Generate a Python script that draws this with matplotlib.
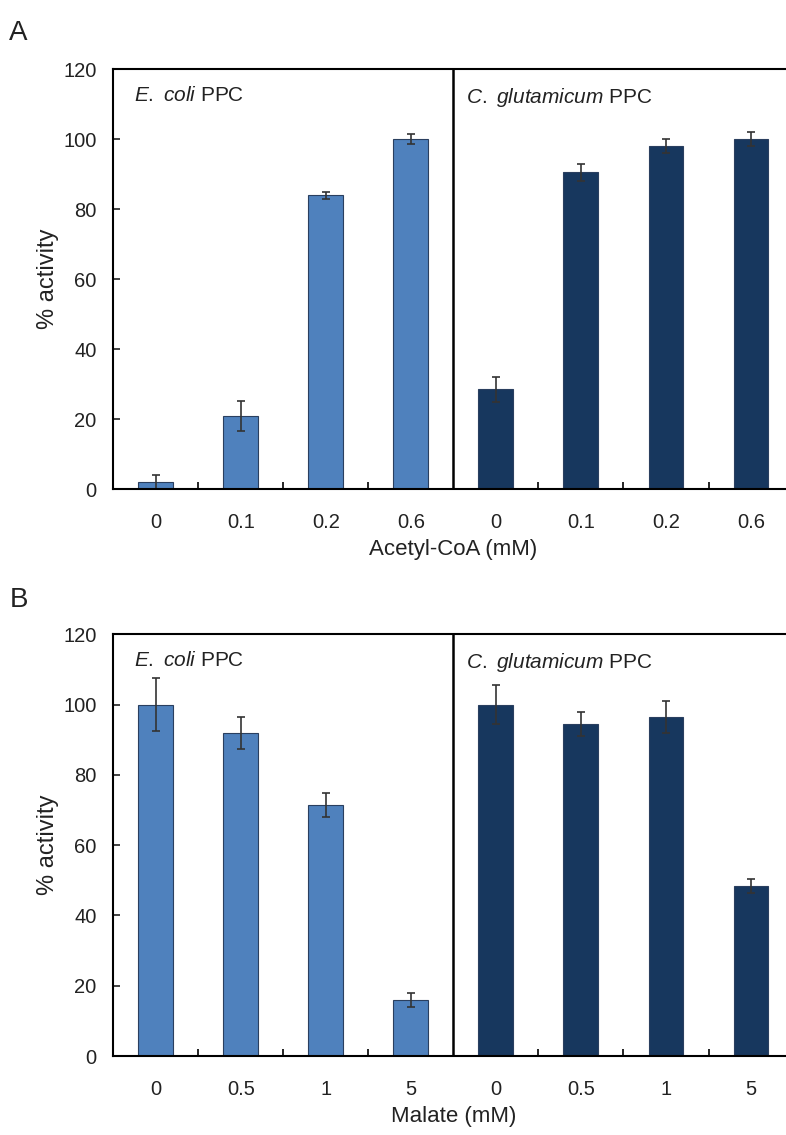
import matplotlib.pyplot as plt
import numpy as np

plt.rcParams['font.family'] = ['Liberation Sans', 'DejaVu Sans']
plt.rcParams['mathtext.fontset'] = 'custom'
plt.rcParams['mathtext.it'] = 'Liberation Sans:italic'
plt.rcParams['mathtext.rm'] = 'Liberation Sans'

# Panel A: acetyl-CoA activation
acoa_labels = ['0', '0.1', '0.2', '0.6']
acoa_ecoli = [2.0, 21.0, 84.0, 100.0]
acoa_ecoli_err = [2.0, 4.3, 1.0, 1.5]
acoa_cglu = [28.5, 90.5, 98.0, 100.0]
acoa_cglu_err = [3.5, 2.5, 2.0, 2.0]

# Panel B: malate inhibition
mal_labels = ['0', '0.5', '1', '5']
mal_ecoli = [100.0, 92.0, 71.5, 16.0]
mal_ecoli_err = [7.5, 4.5, 3.5, 2.0]
mal_cglu = [100.0, 94.5, 96.5, 48.5]
mal_cglu_err = [5.5, 3.5, 4.5, 2.0]

light = '#4F81BD'
dark = '#17375E'
edge = '#2a3f5f'
txt = '#222222'


def draw_panel(ax, labels, ecoli, ecoli_err, cglu, cglu_err, xlabel):
    n = len(labels)
    x1 = np.arange(n)
    x2 = np.arange(n) + n
    ekw = dict(ecolor='#333333', elinewidth=1.2, capsize=3, capthick=1.2)
    ax.bar(x1, ecoli, width=0.41, color=light, edgecolor=edge, linewidth=0.8,
           yerr=ecoli_err, error_kw=ekw)
    ax.bar(x2, cglu, width=0.41, color=dark, edgecolor=edge, linewidth=0.8,
           yerr=cglu_err, error_kw=ekw)
    ax.axvline(n - 0.5, color='black', lw=1.8)
    ax.set_xlim(-0.5, 2 * n - 0.5)
    ax.set_ylim(0, 120)
    ax.set_yticks(np.arange(0, 121, 20))
    ax.set_xticks(np.arange(2 * n))
    ax.set_xticklabels(labels + labels)
    ax.set_xticks([i + 0.5 for i in range(2 * n - 1) if i != n - 1], minor=True)
    ax.tick_params(axis='x', which='major', length=0, pad=17, labelsize=14.5, colors=txt)
    ax.tick_params(axis='x', which='minor', direction='in', length=5, width=1.2)
    ax.tick_params(axis='y', direction='in', length=5, width=1.2, pad=12, labelsize=14.5,
                   colors=txt)
    for s in ['left', 'top', 'bottom']:
        ax.spines[s].set_linewidth(1.5)
    ax.spines['right'].set_visible(False)
    ax.set_xlabel(xlabel, fontsize=16, color=txt, labelpad=5)
    ax.set_ylabel('% activity', fontsize=17, color=txt, labelpad=3)
    ax.text(0.03, 0.96, r'$\it{E.}$ $\it{coli}$ PPC', transform=ax.transAxes,
            fontsize=15, va='top', ha='left', color=txt)
    ax.text(0.5 + 0.0185, 0.96, r'$\it{C.}$ $\it{glutamicum}$ PPC', transform=ax.transAxes,
            fontsize=15, va='top', ha='left', color=txt)


fig = plt.figure(figsize=(7.86, 11.35), dpi=100)
ax_a = fig.add_axes([0.144, 0.569, 1.0096 - 0.144, 0.939 - 0.569])
ax_b = fig.add_axes([0.144, 0.0696, 1.0096 - 0.144, 0.441 - 0.0696])

draw_panel(ax_a, acoa_labels, acoa_ecoli, acoa_ecoli_err, acoa_cglu, acoa_cglu_err,
           'Acetyl-CoA (mM)')
draw_panel(ax_b, mal_labels, mal_ecoli, mal_ecoli_err, mal_cglu, mal_cglu_err,
           'Malate (mM)')

fig.text(0.012, 0.971, 'A', fontsize=20, va='center', ha='left', color=txt)
fig.text(0.012, 0.471, 'B', fontsize=20, va='center', ha='left', color=txt)

fig.savefig('out.png', dpi=100)
